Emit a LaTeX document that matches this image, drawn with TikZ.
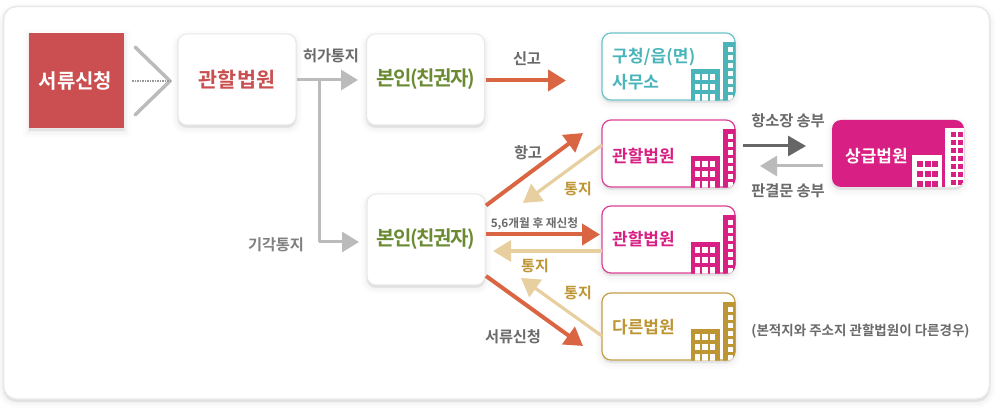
\documentclass[tikz,border=0pt]{standalone}
\usepackage{fontspec}
\setmainfont{Noto Sans CJK KR}[BoldFont={Noto Sans CJK KR Bold}]
\usetikzlibrary{arrows.meta}
\definecolor{cred}{HTML}{CB4F50}
\definecolor{cgreen}{HTML}{6B8B33}
\definecolor{cteal}{HTML}{49B5BB}
\definecolor{cmag}{HTML}{D81F83}
\definecolor{cgold}{HTML}{BD9533}
\definecolor{corange}{HTML}{D96543}
\definecolor{cbeige}{HTML}{E8CFA0}
\definecolor{cgray}{HTML}{BBBBBB}
\definecolor{cdark}{HTML}{666666}
\definecolor{ctext}{HTML}{6A6A6A}
\tikzset{
  softshadow/.style={
    preaction={draw=black,draw opacity=.012,fill=black,fill opacity=.02,line width=12pt,transform canvas={yshift=-3pt}},
    preaction={draw=black,draw opacity=.018,fill=black,fill opacity=.02,line width=7pt,transform canvas={yshift=-3pt}},
    preaction={draw=black,draw opacity=.03,fill=black,fill opacity=.02,line width=3pt,transform canvas={yshift=-2pt}}},
  whitebox/.style={draw=black!9,line width=1pt,fill=white,rounded corners=9pt,minimum width=118pt,minimum height=91pt,inner sep=0pt,softshadow},
  orgbox/.style={draw=#1,line width=1.2pt,fill=white,rounded corners=9pt,minimum width=133pt,minimum height=67pt,inner sep=0pt,softshadow},
  bigtext/.style={font=\fontsize{20.7}{22}\selectfont\bfseries,inner sep=0pt},
  midtext/.style={font=\fontsize{17}{20}\selectfont\bfseries,inner sep=0pt,anchor=west},
  lab/.style={font=\fontsize{15.3}{16}\selectfont\bfseries\addfontfeature{LetterSpace=-1},text=ctext,inner sep=0pt},
  goldlab/.style={font=\fontsize{15}{16}\selectfont\bfseries,text=cgold,inner sep=0pt},
  flowgray/.style={draw=cgray,line width=3pt,-{Triangle[length=17pt,width=20pt]}},
  floworange/.style={draw=corange,line width=4pt,-{Triangle[length=18pt,width=21pt]}},
  flowbeige/.style={draw=cbeige,line width=3.2pt,-{Triangle[length=18pt,width=21pt]}},
  flowdark/.style={draw=cdark,line width=3pt,-{Triangle[length=18pt,width=20pt]}},
}
\newcommand{\bldgA}[3]{%
  \begin{scope}
    \clip[rounded corners=9pt] (#1.south west) rectangle (#1.north east);
    \begin{scope}[shift={(#1.south east)}]
      \fill[#2] (-13,-59) rectangle (1,1);
      \foreach \r in {0,...,6} \fill[#3] (-7.6,{-54+8*\r}) rectangle ++(4.8,5);
      \fill[#2] (-45,-32) rectangle (-16,1);
      \foreach \c in {0,1,2} \foreach \r in {0,1,2} \fill[#3] ({-41+7.6*\c},{-27+10.2*\r}) rectangle ++(5.6,6.6);
    \end{scope}
  \end{scope}}
\newcommand{\bldgB}[1]{%
  \begin{scope}
    \clip[rounded corners=9pt] (#1.south west) rectangle (#1.north east);
    \begin{scope}[shift={(#1.south east)}]
      \fill[white] (-19,-59) rectangle (1,1);
      \foreach \c in {0,1} \foreach \r in {0,...,6} \fill[cmag] ({-13+6.5*\c},{-55+8*\r}) rectangle ++(5,5);
      \fill[white] (-52,-32) rectangle (-22,1);
      \foreach \c in {0,1,2} \foreach \r in {0,1,2} \fill[cmag] ({-47+7.6*\c},{-26+10*\r}) rectangle ++(5.8,6);
    \end{scope}
  \end{scope}}
\begin{document}
\begin{tikzpicture}[x=1pt,y=-1pt]
\useasboundingbox (0,0) rectangle (1000,411);
\fill[white] (0,0) rectangle (1000,411);
% card
\path[draw=black!9,line width=1.5pt,fill=white,rounded corners=13pt,softshadow] (3.5,6.5) rectangle (989.5,399);
% source
\node[fill=cred,minimum width=95pt,minimum height=95pt,inner sep=0pt,softshadow,bigtext,font=\fontsize{20}{22}\selectfont\bfseries,text=white] (src) at (76.5,81) {\hspace*{-2pt}\raisebox{.5pt}{서류신청}};
\coordinate (cvA) at (135,47); \coordinate (cvB) at (170,81); \coordinate (cvC) at (135,115);
\draw[cgray,line width=3.5pt,line cap=round,line join=round] (cvA) -- (cvB) -- (cvC);
\coordinate (dotA) at (132,81);
\draw[black!40,line width=2pt,dash pattern=on 1.5pt off 1pt] (dotA) -- (cvB);
% white boxes
\node[whitebox,bigtext,text=cred] (court) at (237,79.5) {\raisebox{-1pt}{관할법원}};
\node[whitebox,bigtext,font=\fontsize{20}{22}\selectfont\bfseries\addfontfeature{LetterSpace=-7},text=cgreen] (selfA) at (425.5,79.5) {\raisebox{-2.5pt}{본인(친권자)}};
\node[whitebox,bigtext,font=\fontsize{20}{22}\selectfont\bfseries\addfontfeature{LetterSpace=-7},text=cgreen] (selfB) at (426,239.5) {\raisebox{-2.5pt}{본인(친권자)}};
% right boxes
\node[orgbox=cteal!80] (gu) at (668.5,66.5) {};
\node[orgbox=cmag!85] (crtA) at (668.5,153.5) {};
\node[orgbox=cmag!85] (crtB) at (668.5,239.5) {};
\node[orgbox=cgold!90] (crtC) at (668.5,326.5) {};
\node[fill=cmag,rounded corners=9pt,minimum width=132pt,minimum height=67pt,inner sep=0pt,softshadow] (high) at (898,153.5) {};
\bldgA{gu}{cteal}{white}
\bldgA{crtA}{cmag}{white}
\bldgA{crtB}{cmag}{white}
\bldgA{crtC}{cgold}{white}
\bldgB{high}
\node[midtext,font=\fontsize{17}{20}\selectfont\bfseries\addfontfeature{LetterSpace=1},text=cteal] (guT) at (612,57) {구청/읍(면)};
\node[midtext,text=cteal] (guU) at (612,82) {사무소};
\node[midtext,text=cmag] (crtAT) at (612,156) {관할법원};
\node[midtext,text=cmag] (crtBT) at (612,239) {관할법원};
\node[midtext,text=cgold] (crtCT) at (612,327.5) {다른법원};
\node[midtext,text=white] (highT) at (845,156) {상급법원};
% coordinates
\coordinate (j1) at (319,80);
\coordinate (j2) at (319,242);
\coordinate (g1) at (358,80);
\coordinate (g2) at (359,242);
\coordinate (o1s) at (485.5,80.5);
\coordinate (o1t) at (566,80.5);
\coordinate (o2s) at (486,205.5);
\coordinate (o2t) at (583,133);
\coordinate (o3s) at (486,234.5);
\coordinate (o3t) at (600,234.5);
\coordinate (o4s) at (486,276);
\coordinate (o4t) at (583,346);
\coordinate (b1s) at (602,145);
\coordinate (b1t) at (523,203);
\coordinate (b2s) at (602,251);
\coordinate (b2t) at (493,251);
\coordinate (b3s) at (602,336);
\coordinate (b3t) at (521,278);
\coordinate (d1s) at (743,146);
\coordinate (d1t) at (806,146);
\coordinate (d2s) at (823,166);
\coordinate (d2t) at (760,166);
% connectors
\draw[cgray,line width=3pt] (j1) -- (j2);
\draw[flowgray] (court.east |- j1) -- (g1);
\draw[flowgray] (j2) -- (g2);
\draw[floworange] (o1s) -- (o1t);
\draw[floworange] (o2s) -- (o2t);
\draw[floworange] (o3s) -- (o3t);
\draw[floworange] (o4s) -- (o4t);
\draw[flowbeige] (b1s) -- (b1t);
\draw[flowbeige] (b2s) -- (b2t);
\draw[flowbeige] (b3s) -- (b3t);
\draw[flowdark] (d1s) -- (d1t);
\draw[flowgray] (d2s) -- (d2t);
% labels
\node[lab] (lA) at (331,56) {허가통지};
\node[lab,text=black!50] (lB) at (276,245) {기각통지};
\node[lab] (lC) at (527,59) {신고};
\node[lab] (lD) at (528,153) {항고};
\node[goldlab] (lE) at (578,189) {통지};
\node[fill=white,inner xsep=2pt,inner ysep=1pt,font=\fontsize{11.7}{13}\selectfont\bfseries,text=ctext] (lF) at (534.5,224) {5,6개월 후 재신청};
\node[goldlab] (lG) at (535,266) {통지};
\node[goldlab] (lH) at (578,293) {통지};
\node[lab] (lI) at (513,337) {서류신청};
\node[lab] (lJ) at (788,121) {항소장 송부};
\node[lab] (lK) at (788,191) {판결문 송부};
\node[font=\fontsize{13.5}{14}\selectfont\bfseries,text=ctext,inner sep=0pt] (lL) at (860.5,331) {(본적지와 주소지 관할법원이 다른경우)};
\end{tikzpicture}
\end{document}
